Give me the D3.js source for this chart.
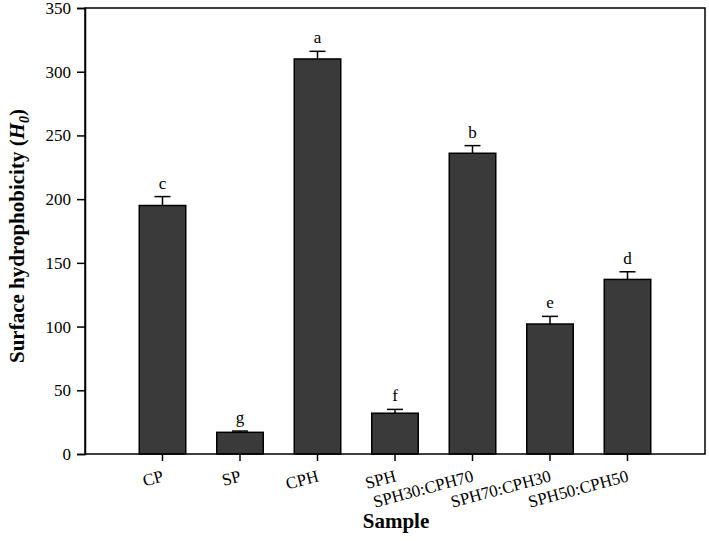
<!DOCTYPE html>
<html>
<head>
<meta charset="utf-8">
<script src="https://cdn.jsdelivr.net/npm/d3@7"></script>
<style>
body { margin: 0; background: #fff; }
svg { display: block; }
text { font-family: "Liberation Serif", "Times New Roman", serif; fill: #000; }
</style>
</head>
<body>
<div id="chart"></div>
<script>
const categories = ["CP", "SP", "CPH", "SPH", "SPH30:CPH70", "SPH70:CPH30", "SPH50:CPH50"];
const values = [195, 17, 310, 32, 236, 102, 137];
const errors = [7, 1, 6, 3, 6, 6, 6];
const letters = ["c", "g", "a", "f", "b", "e", "d"];
const yTicks = [0, 50, 100, 150, 200, 250, 300, 350];

(function () {
const W = 709, H = 541;
const mLeft = 85, mRight = 705, mTop = 8, mBottom = 454;

const svg = d3.select("#chart").append("svg").attr("width", W).attr("height", H);

const step = (mRight - mLeft) / 8;
const x = d3.scaleBand().domain(categories)
  .range([mLeft + step / 2, mRight - step / 2]).padding(0);
const barW = x.bandwidth() * 0.6;
const y = d3.scaleLinear().domain([0, 350]).range([mBottom, mTop]);

// bars
svg.selectAll("rect.bar").data(categories).enter().append("rect")
  .attr("class", "bar")
  .attr("x", (d) => x(d) + x.bandwidth() / 2 - barW / 2)
  .attr("y", (d, i) => y(values[i]))
  .attr("width", barW)
  .attr("height", (d, i) => y(0) - y(values[i]))
  .attr("fill", "#3a3a3a")
  .attr("stroke", "#000").attr("stroke-width", 1.5);

// error bars
const eb = svg.selectAll("g.err").data(categories).enter().append("g");
eb.append("line")
  .attr("x1", (d) => x(d) + x.bandwidth() / 2)
  .attr("x2", (d) => x(d) + x.bandwidth() / 2)
  .attr("y1", (d, i) => y(values[i]))
  .attr("y2", (d, i) => y(values[i] + errors[i]))
  .attr("stroke", "#000").attr("stroke-width", 1.5);
eb.append("line")
  .attr("x1", (d) => x(d) + x.bandwidth() / 2 - 8)
  .attr("x2", (d) => x(d) + x.bandwidth() / 2 + 8)
  .attr("y1", (d, i) => y(values[i] + errors[i]))
  .attr("y2", (d, i) => y(values[i] + errors[i]))
  .attr("stroke", "#000").attr("stroke-width", 1.5);
eb.append("text")
  .attr("x", (d) => x(d) + x.bandwidth() / 2)
  .attr("y", (d, i) => y(values[i] + errors[i]) - 8)
  .attr("text-anchor", "middle")
  .style("font-size", "17px")
  .text((d, i) => letters[i]);

// frame
svg.append("rect").attr("x", mLeft).attr("y", mTop)
  .attr("width", mRight - mLeft).attr("height", mBottom - mTop)
  .attr("fill", "none").attr("stroke", "#000").attr("stroke-width", 1.5);

// y axis
const yAxis = svg.append("g").attr("transform", `translate(${mLeft},0)`)
  .call(d3.axisLeft(y).tickValues(yTicks).tickSize(8).tickPadding(6));
yAxis.select(".domain").attr("stroke-width", 1.5);
yAxis.selectAll(".tick line").attr("stroke-width", 1.5);
yAxis.selectAll("text").style("font-size", "17px").attr("font-family", null);

// x axis
const xAxis = svg.append("g").attr("transform", `translate(0,${mBottom})`)
  .call(d3.axisBottom(x).tickSize(7).tickSizeOuter(0));
xAxis.select(".domain").remove();
xAxis.selectAll(".tick line").attr("stroke-width", 1.5);
xAxis.selectAll("text")
  .style("font-size", "17px").attr("font-family", null)
  .attr("text-anchor", "end")
  .attr("dy", null)
  .attr("x", 0).attr("y", 0)
  .attr("transform", "translate(2,27) rotate(-15)");

// axis titles
svg.append("text")
  .attr("x", 396).attr("y", 528)
  .attr("text-anchor", "middle")
  .style("font-size", "21px").style("font-weight", "bold")
  .text("Sample");

const yt = svg.append("text")
  .attr("transform", "translate(24,236) rotate(-90)")
  .attr("text-anchor", "middle")
  .style("font-size", "21px").style("font-weight", "bold");
yt.append("tspan").text("Surface hydrophobicity (");
yt.append("tspan").style("font-style", "italic").text("H");
yt.append("tspan").style("font-style", "italic").style("font-size", "14px").attr("dy", 5).text("0");
yt.append("tspan").attr("dy", -5).text(")");
})();
</script>
</body>
</html>
